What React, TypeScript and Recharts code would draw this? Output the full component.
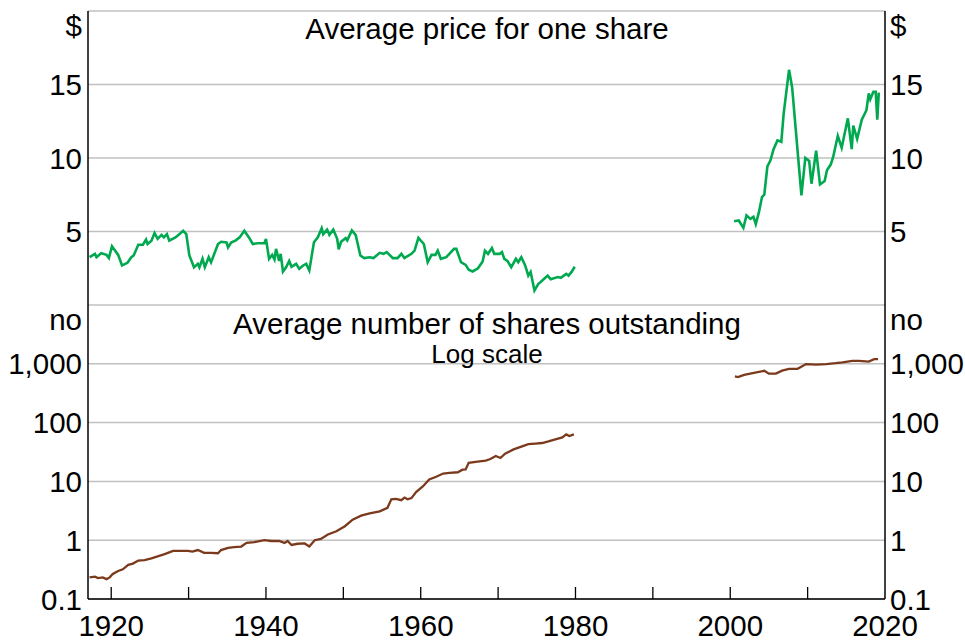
import React from "react";
import { CartesianGrid, Line, LineChart, XAxis, YAxis } from "recharts";

// [year, $ per share]
const priceEarly: [number, number][] = [
  [1917.2, 3.25], [1917.9, 3.48], [1918.1, 3.25], [1918.7, 3.52], [1919.4, 3.41],
  [1919.7, 3.2], [1920.1, 4.0], [1920.9, 3.41], [1921.4, 2.69], [1922.1, 2.87],
  [1922.6, 3.25], [1922.9, 3.37], [1923.5, 4.1], [1924.1, 4.1], [1924.5, 4.45],
  [1924.7, 4.15], [1925.2, 4.38], [1925.6, 4.9], [1926.0, 4.5], [1926.5, 4.77],
  [1926.8, 4.6], [1927.2, 4.82], [1927.5, 4.38], [1928.3, 4.6], [1928.8, 4.82],
  [1929.3, 5.05], [1929.7, 4.82], [1930.1, 3.37], [1930.7, 2.57], [1931.2, 2.8],
  [1931.4, 2.57], [1931.8, 3.14], [1932.1, 2.57], [1932.6, 3.25], [1932.9, 2.9],
  [1933.8, 4.15], [1934.2, 4.3], [1934.9, 4.25], [1935.1, 3.92], [1935.5, 4.25],
  [1936.1, 4.4], [1936.6, 4.6], [1937.2, 5.05], [1937.8, 4.6], [1938.3, 4.15],
  [1938.9, 4.2], [1939.8, 4.2], [1940.0, 4.5], [1940.4, 3.14], [1940.8, 3.41],
  [1941.1, 3.1], [1941.3, 3.82], [1941.7, 3.0], [1941.9, 3.48], [1942.2, 2.28],
  [1942.6, 2.57], [1943.0, 3.0], [1943.3, 2.6], [1943.9, 2.8], [1944.3, 2.46],
  [1944.8, 2.69], [1945.2, 2.8], [1945.6, 2.35], [1946.2, 4.27], [1946.7, 4.6],
  [1947.2, 5.22], [1947.4, 4.82], [1947.9, 5.13], [1948.2, 4.77], [1948.7, 5.13],
  [1949.2, 4.5], [1949.4, 3.78], [1949.7, 4.3], [1950.3, 4.55], [1950.5, 4.4],
  [1951.1, 5.07], [1951.6, 4.75], [1952.2, 3.37], [1952.7, 3.19], [1953.4, 3.25],
  [1953.9, 3.19], [1954.7, 3.55], [1955.2, 3.48], [1955.6, 3.6], [1956.4, 3.19],
  [1957.0, 3.19], [1957.5, 3.48], [1957.9, 3.2], [1958.8, 3.48], [1959.2, 3.7],
  [1959.7, 4.57], [1960.4, 4.15], [1960.9, 2.91], [1961.4, 3.41], [1961.9, 3.41],
  [1962.2, 3.7], [1962.6, 3.14], [1963.3, 3.25], [1964.3, 3.82], [1964.6, 3.82],
  [1965.2, 2.91], [1965.8, 2.73], [1966.2, 2.4], [1966.7, 2.28], [1967.4, 2.5],
  [1968.0, 2.96], [1968.3, 3.7], [1968.7, 3.48], [1969.2, 3.87], [1969.5, 3.48],
  [1970.2, 3.48], [1970.5, 3.6], [1970.8, 3.14], [1971.2, 3.0], [1971.7, 2.57],
  [1972.3, 3.14], [1972.6, 2.91], [1973.0, 3.25], [1973.5, 2.69], [1973.9, 2.0],
  [1974.2, 2.25], [1974.7, 0.99], [1975.2, 1.44], [1975.5, 1.56], [1976.4, 2.0],
  [1976.8, 1.75], [1977.7, 1.9], [1978.1, 1.85], [1978.8, 2.12], [1979.1, 2.0],
  [1979.5, 2.25], [1979.9, 2.6],
];

const priceLate: [number, number][] = [
  [2000.5, 5.7], [2001.1, 5.75], [2001.7, 5.25], [2002.1, 6.1], [2002.6, 5.86],
  [2003.0, 6.0], [2003.3, 5.5], [2003.7, 6.3], [2004.1, 7.34], [2004.4, 7.5],
  [2004.8, 9.43], [2005.2, 9.84], [2005.6, 10.6], [2006.1, 11.2], [2006.6, 11.1],
  [2006.9, 13.0], [2007.6, 16.0], [2008.0, 14.8], [2008.7, 10.5], [2009.2, 7.45],
  [2009.7, 10.0], [2010.2, 9.8], [2010.5, 8.25], [2011.1, 10.5], [2011.6, 8.2],
  [2012.2, 8.43], [2012.5, 9.16], [2013.0, 9.57], [2013.3, 10.07], [2013.9, 11.5],
  [2014.4, 10.7], [2015.2, 12.7], [2015.7, 10.6], [2015.9, 12.2], [2016.4, 11.3],
  [2017.0, 12.6], [2017.6, 13.25], [2017.9, 14.4], [2018.1, 14.0], [2018.5, 14.5],
  [2018.8, 14.5], [2019.0, 12.6], [2019.2, 14.45],
];

// [year, number of shares]
const sharesEarly: [number, number][] = [
  [1917.2, 0.233], [1917.9, 0.24], [1918.3, 0.227], [1918.9, 0.233], [1919.4, 0.218],
  [1919.8, 0.233], [1920.2, 0.266], [1920.9, 0.3], [1921.5, 0.32], [1922.2, 0.38],
  [1922.8, 0.4], [1923.5, 0.45], [1924.3, 0.46], [1925.2, 0.49], [1926.0, 0.53],
  [1926.9, 0.58], [1928.0, 0.66], [1929.0, 0.66], [1929.9, 0.66], [1930.5, 0.64],
  [1931.2, 0.68], [1932.0, 0.61], [1932.9, 0.61], [1933.8, 0.6], [1934.2, 0.68],
  [1935.1, 0.74], [1935.9, 0.76], [1936.8, 0.78], [1937.5, 0.9], [1938.5, 0.93],
  [1939.8, 1.0], [1940.7, 0.97], [1941.7, 0.97], [1942.4, 0.9], [1942.8, 0.97],
  [1943.3, 0.83], [1944.1, 0.87], [1945.0, 0.88], [1945.6, 0.78], [1946.3, 1.0],
  [1947.1, 1.05], [1948.0, 1.25], [1949.1, 1.42], [1950.2, 1.73], [1951.2, 2.24],
  [1952.3, 2.62], [1953.4, 2.85], [1954.7, 3.1], [1955.7, 3.55], [1956.2, 4.95],
  [1956.8, 5.05], [1957.5, 4.8], [1957.9, 5.3], [1958.3, 4.95], [1958.8, 5.2],
  [1959.4, 6.6], [1960.3, 8.3], [1961.1, 10.8], [1962.0, 12], [1962.9, 13.6],
  [1963.7, 14], [1964.8, 14.3], [1965.4, 15.8], [1965.8, 16], [1966.2, 20.7],
  [1967.1, 21.5], [1968.4, 22.5], [1969.0, 24], [1969.7, 27], [1970.3, 25],
  [1970.9, 29.5], [1972.0, 35], [1973.1, 39.5], [1973.9, 43], [1974.8, 44],
  [1975.7, 45], [1976.5, 48], [1977.4, 52], [1978.3, 56], [1978.8, 63],
  [1979.2, 59], [1979.8, 63],
];

const sharesLate: [number, number][] = [
  [2000.6, 610], [2001.0, 595], [2001.8, 650], [2002.9, 695], [2004.4, 760],
  [2005.0, 680], [2005.9, 680], [2006.7, 765], [2007.6, 820], [2008.7, 820],
  [2009.8, 990], [2011.1, 970], [2012.4, 990], [2013.6, 1025], [2014.5, 1060],
  [2015.8, 1125], [2016.6, 1125], [2017.9, 1090], [2018.6, 1200], [2019.1, 1200],
];

const yearTicks = [1920, 1930, 1940, 1950, 1960, 1970, 1980, 1990, 2000, 2010, 2020];
const priceTicks = [0, 5, 10, 15, 20];
const shareTicks = [0.1, 1, 10, 100, 1000, 10000];

const FONT = "'Liberation Sans', Arial, sans-serif";
const FS = 29.5;
const GREEN = "#00a94f";
const BROWN = "#7b3a1c";
const GRID = "#c0c0c0";

const toRows = (pts: [number, number][]) => pts.map(([year, v]) => ({ year, v }));

function fmtShares(v: number) {
  if (v === 10000) return "no";
  if (v === 0.1) return "0.1";
  return v.toLocaleString("en-US");
}

const fmtPrice = (v: number) => (v === 20 ? "$" : String(v));

function YTick(props: any) {
  const { x, y, payload, textAnchor, top, fmt } = props;
  const v = payload.value;
  if (v === 0) return null;
  const isUnit = v === top;
  return (
    <text
      x={x}
      y={y + (isUnit ? 14 : 0)}
      dy="0.36em"
      textAnchor={textAnchor}
      fontSize={FS}
      fontFamily={FONT}
      fill="#000"
    >
      {fmt(v)}
    </text>
  );
}

function YearTick(props: any) {
  const { x, y, payload } = props;
  const yr = payload.value;
  return (
    <g>
      {yr !== 2020 && <line x1={x} x2={x} y1={y} y2={y - 12} stroke="#000" strokeWidth={1.3} />}
      {yr % 20 === 0 && (
        <text x={x} y={y + 37} textAnchor="middle" fontSize={FS} fontFamily={FONT} fill="#000">
          {yr}
        </text>
      )}
    </g>
  );
}

const axisLine = { stroke: "#000", strokeWidth: 1.5 };

export default function App() {
  const margin = { top: 0, right: 0, bottom: 0, left: 8 };
  return (
    <div style={{ position: "absolute", left: 0, top: 0, width: 965, height: 643, background: "#fff" }}>
      <LineChart width={965} height={305} margin={{ ...margin, top: 11 }}>
        <CartesianGrid vertical={false} stroke={GRID} strokeWidth={1.5} yAxisId="left" />
        <XAxis dataKey="year" type="number" domain={[1917, 2020]} allowDataOverflow height={0}
          tick={false} tickLine={false} axisLine={axisLine} />
        <XAxis xAxisId="top" orientation="top" dataKey="year" type="number" domain={[1917, 2020]}
          allowDataOverflow height={0} tick={false} tickLine={false} axisLine={axisLine} />
        <YAxis yAxisId="left" width={80} domain={[0, 20]} allowDataOverflow ticks={priceTicks} interval={0}
          tickLine={false} tickSize={0} tickMargin={6} axisLine={axisLine}
          tick={(p: any) => <YTick {...p} top={20} fmt={fmtPrice} />} />
        <YAxis yAxisId="right" orientation="right" width={80} domain={[0, 20]} allowDataOverflow
          ticks={priceTicks} interval={0} tickLine={false} tickSize={0} tickMargin={5} axisLine={axisLine}
          tick={(p: any) => <YTick {...p} top={20} fmt={fmtPrice} />} />
        <Line yAxisId="left" data={toRows(priceEarly)} dataKey="v" type="linear" stroke={GREEN}
          strokeWidth={2.6} dot={false} isAnimationActive={false} />
        <Line yAxisId="left" data={toRows(priceLate)} dataKey="v" type="linear" stroke={GREEN}
          strokeWidth={2.6} dot={false} isAnimationActive={false} />
        <text x={487} y={39} textAnchor="middle" fontSize={FS} fontFamily={FONT} fill="#000">
          Average price for one share
        </text>
      </LineChart>
      <LineChart width={965} height={338} margin={{ ...margin, bottom: 0 }}>
        <CartesianGrid vertical={false} stroke={GRID} strokeWidth={1.5} yAxisId="left" />
        <XAxis dataKey="year" type="number" domain={[1917, 2020]} allowDataOverflow ticks={yearTicks}
          interval={0} height={44} tickLine={false} tickSize={0} tickMargin={0} axisLine={axisLine}
          tick={(p: any) => <YearTick {...p} />} />
        <XAxis xAxisId="top" orientation="top" dataKey="year" type="number" domain={[1917, 2020]}
          allowDataOverflow height={0} tick={false} tickLine={false} axisLine={axisLine} />
        <YAxis yAxisId="left" width={80} scale="log" domain={[0.1, 10000]} allowDataOverflow
          ticks={shareTicks} interval={0} tickLine={false} tickSize={0} tickMargin={6} axisLine={axisLine}
          tick={(p: any) => <YTick {...p} top={10000} fmt={fmtShares} />} />
        <YAxis yAxisId="right" orientation="right" width={80} scale="log" domain={[0.1, 10000]}
          allowDataOverflow ticks={shareTicks} interval={0} tickLine={false} tickSize={0} tickMargin={5}
          axisLine={axisLine}
          tick={(p: any) => <YTick {...p} top={10000} fmt={fmtShares} />} />
        <Line yAxisId="left" data={toRows(sharesEarly)} dataKey="v" type="linear" stroke={BROWN}
          strokeWidth={2.3} dot={false} isAnimationActive={false} />
        <Line yAxisId="left" data={toRows(sharesLate)} dataKey="v" type="linear" stroke={BROWN}
          strokeWidth={2.3} dot={false} isAnimationActive={false} />
        <text x={487} y={29} textAnchor="middle" fontSize={FS} fontFamily={FONT} fill="#000">
          Average number of shares outstanding
        </text>
        <text x={487} y={58} textAnchor="middle" fontSize={26} fontFamily={FONT} fill="#000">
          Log scale
        </text>
      </LineChart>
    </div>
  );
}
